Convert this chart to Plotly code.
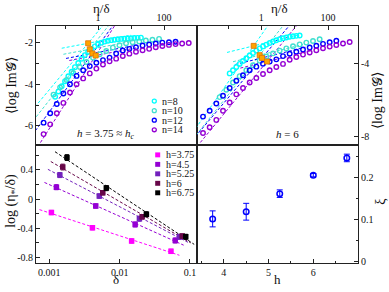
import numpy as np
import plotly.graph_objects as go
from plotly.subplots import make_subplots

# ---------------- data : top-left panel (h = 3.75) ; x = log10(eta/delta) ----------------
tl_n8_x = [-1.3,-1.2,-1.1,-1.0,-0.9,-0.8,-0.7,-0.6,-0.5,-0.4,-0.3,-0.2,-0.1,0.0,0.1,0.2,0.3,0.4,0.5,0.6,0.7,0.8,0.9,1.0,1.1,1.2,1.3]
tl_n8_y = [-4.6,-4.35,-4.1,-3.86,-3.62,-3.4,-3.18,-2.98,-2.78,-2.6,-2.44,-2.3,-2.18,-2.08,-2.0,-1.95,-1.91,-1.88,-1.86,-1.84,-1.82,-1.81,-1.8,-1.79,-1.78,-1.77,-1.76]
tl_n10_x = [-1.35,-1.15,-0.95,-0.75,-0.55,-0.35,-0.15,0.05,0.25,0.45,0.65,0.85,1.05,1.25,1.45,1.65,1.85]
tl_n10_y = [-4.5,-4.15,-3.8,-3.46,-3.17,-2.93,-2.73,-2.56,-2.4,-2.24,-2.12,-2.03,-1.98,-1.94,-1.9,-1.86,-1.82]
tl_n12_x = [-1.65,-1.45,-1.25,-1.05,-0.85,-0.65,-0.45,-0.25,-0.05,0.15,0.35,0.55,0.75,0.95,1.15,1.35,1.55,1.75,1.95,2.15,2.35]
tl_n12_y = [-5.85,-5.4,-4.95,-4.45,-4.0,-3.6,-3.33,-3.13,-2.97,-2.84,-2.72,-2.52,-2.38,-2.3,-2.22,-2.14,-2.09,-2.04,-2.0,-1.98,-1.96]
tl_n14_x = [-1.65,-1.45,-1.25,-1.05,-0.85,-0.65,-0.45,-0.25,-0.05,0.15,0.35,0.55,0.75,0.95,1.15,1.35,1.55,1.75,1.95,2.15,2.35,2.55,2.75]
tl_n14_y = [-6.4,-5.93,-5.4,-4.9,-4.4,-4.0,-3.72,-3.48,-3.25,-3.05,-2.9,-2.77,-2.64,-2.53,-2.44,-2.37,-2.3,-2.22,-2.16,-2.11,-2.07,-2.04,-2.02]
tl_cross_x = [-0.30, -0.25, -0.17, -0.07]
tl_cross_y = [-2.03, -2.32, -2.52, -2.62]
tl_steep = [1.9, 2.0, 2.15, 2.5]
tl_flat = [0.3, 0.3, 0.3, 0.3]

# ---------------- data : top-right panel (h = 6) ----------------
tr_n8_x = [-0.95,-0.85,-0.75,-0.65,-0.55,-0.45,-0.35,-0.25,-0.15,-0.05,0.05,0.15,0.25,0.35,0.45,0.55,0.65,0.75,0.85,0.95,1.05,1.15]
tr_n8_y = [-4.55,-4.38,-4.2,-4.03,-3.87,-3.72,-3.57,-3.43,-3.3,-3.18,-3.07,-2.97,-2.88,-2.8,-2.73,-2.67,-2.62,-2.58,-2.54,-2.51,-2.49,-2.47]
tr_n10_x = [-1.25,-1.05,-0.85,-0.65,-0.45,-0.25,-0.05,0.15,0.35,0.55,0.75,0.95,1.15,1.35,1.55,1.75]
tr_n10_y = [-5.85,-5.45,-5.05,-4.7,-4.38,-4.1,-3.85,-3.62,-3.45,-3.3,-3.18,-3.06,-2.96,-2.86,-2.77,-2.68]
tr_n12_x = [-1.75,-1.55,-1.35,-1.15,-0.95,-0.75,-0.55,-0.35,-0.15,0.05,0.25,0.45,0.65,0.85,1.05,1.25,1.45,1.65,1.85,2.05,2.25]
tr_n12_y = [-6.92,-6.6,-6.2,-5.78,-5.35,-4.95,-4.65,-4.38,-4.18,-4.02,-3.9,-3.78,-3.6,-3.47,-3.36,-3.24,-3.13,-3.03,-2.93,-2.84,-2.76]
tr_n14_x = [-1.75,-1.55,-1.35,-1.15,-0.95,-0.75,-0.55,-0.35,-0.15,0.05,0.25,0.45,0.65,0.85,1.05,1.25,1.45,1.65,1.85,2.05,2.25,2.45,2.65]
tr_n14_y = [-7.82,-7.5,-7.1,-6.6,-6.15,-5.7,-5.35,-5.05,-4.8,-4.58,-4.38,-4.2,-4.03,-3.8,-3.65,-3.52,-3.4,-3.28,-3.17,-3.08,-2.99,-2.91,-2.83]
tr_cross_x = [-0.23, -0.05, 0.02, 0.17]
tr_cross_y = [-3.04, -3.55, -3.7, -3.9]
tr_steep = [2.6, 2.3, 2.16, 2.22]
tr_flat = [0.45, 0.45, 0.45, 0.45]

n_labels = ["n=8", "n=10", "n=12", "n=14"]

# ---------------- data : bottom-left panel ----------------
h_labels = ["h=3.75", "h=4.5", "h=5.25", "h=6", "h=6.75"]
bl_delta = [
    [0.00107, 0.0041, 0.0148, 0.0537],
    [0.00126, 0.00457, 0.0166, 0.0617],
    [0.00141, 0.00513, 0.0191, 0.0708],
    [0.00155, 0.00575, 0.0209, 0.0776],
    [0.00178, 0.00646, 0.0240, 0.0871],
]
bl_logeta = [
    [-0.186, -0.395, -0.577, -0.72],
    [0.163, -0.095, -0.35, -0.57],
    [0.33, 0.04, -0.27, -0.52],
    [0.44, 0.086, -0.245, -0.51],
    [0.57, 0.15, -0.21, -0.52],
]
bl_err = [
    [0.03, 0.03, 0.03, 0.03],
    [0.035, 0.03, 0.035, 0.035],
    [0.035, 0.03, 0.035, 0.035],
    [0.04, 0.03, 0.03, 0.03],
    [0.04, 0.035, 0.035, 0.035],
]

# ---------------- data : bottom-right panel ----------------
br_h = [3.75, 4.5, 5.25, 6.0, 6.75]
br_xi = [0.102, 0.119, 0.162, 0.206, 0.247]
br_err = [0.019, 0.02, 0.009, 0.004, 0.009]

# ---------------- styling ----------------
n_colors = ["#00FFFF", "#40E0D0", "#0000FF", "#9400D3"]
h_colors = ["#FF00FF", "#9400D3", "#7221BC", "#670748", "#000000"]
ORANGE = "#FFA500"
FONT = "Liberation Serif, Times New Roman, serif"
AX = "#222222"

fig = make_subplots(rows=2, cols=2, horizontal_spacing=0, vertical_spacing=0)

def add_top(row, col, xs, ys, cx, cy, steep, flat):
    for i in range(4):
        xl = np.array([cx[i] - 2.0, cx[i] + 1.2])
        yl = cy[i] + steep[i] * (xl - cx[i])
        fig.add_trace(go.Scatter(x=10 ** xl, y=yl, mode="lines",
                                 line=dict(color=n_colors[i], width=1, dash="3px,2px"),
                                 showlegend=False, hoverinfo="skip"), row=row, col=col)
        xf = np.array([cx[i] - 0.8, cx[i] + 1.3])
        yf = cy[i] + flat[i] * (xf - cx[i])
        fig.add_trace(go.Scatter(x=10 ** xf, y=yf, mode="lines",
                                 line=dict(color=n_colors[i], width=1, dash="3px,2px"),
                                 showlegend=False, hoverinfo="skip"), row=row, col=col)
    for i in range(4):
        x = np.array(xs[i]); y = np.array(ys[i])
        fig.add_trace(go.Scatter(x=10 ** x, y=y, mode="markers",
                                 marker=dict(symbol="circle-open", size=4.5, color=n_colors[i],
                                             line=dict(width=1.4, color=n_colors[i])),
                                 showlegend=False), row=row, col=col)
    fig.add_trace(go.Scatter(x=10 ** np.array(cx), y=cy, mode="markers",
                             marker=dict(symbol="square", size=5, color=ORANGE,
                                         line=dict(width=0.8, color="#E07000")),
                             showlegend=False), row=row, col=col)

add_top(1, 1, [tl_n8_x, tl_n10_x, tl_n12_x, tl_n14_x], [tl_n8_y, tl_n10_y, tl_n12_y, tl_n14_y],
        tl_cross_x, tl_cross_y, tl_steep, tl_flat)
add_top(1, 2, [tr_n8_x, tr_n10_x, tr_n12_x, tr_n14_x], [tr_n8_y, tr_n10_y, tr_n12_y, tr_n14_y],
        tr_cross_x, tr_cross_y, tr_steep, tr_flat)

# bottom-left
for i in range(5):
    ld = np.log10(bl_delta[i])
    p = np.polyfit(ld, bl_logeta[i], 1)
    xl = np.array([ld[0] - 0.17, ld[-1] + 0.12])
    fig.add_trace(go.Scatter(x=10 ** xl, y=np.polyval(p, xl), mode="lines",
                             line=dict(color=h_colors[i], width=1, dash="3px,2px"),
                             showlegend=False, hoverinfo="skip"), row=2, col=1)
for i in range(5):
    fig.add_trace(go.Scatter(x=bl_delta[i], y=bl_logeta[i], mode="markers",
                             marker=dict(symbol="square", size=5.5, color=h_colors[i]),
                             error_y=dict(type="data", array=bl_err[i], color=h_colors[i],
                                          thickness=1, width=2),
                             showlegend=False), row=2, col=1)

# bottom-right
fig.add_trace(go.Scatter(x=br_h, y=br_xi, mode="markers",
                         marker=dict(symbol="circle-open", size=5.5, color="#0000FF",
                                     line=dict(width=1.5, color="#0000FF")),
                         error_y=dict(type="data", array=br_err, color="#0000FF", thickness=1, width=3),
                         showlegend=False), row=2, col=2)

tickfont = dict(family=FONT, size=10, color="#111111")
common = dict(showgrid=False, zeroline=False, showline=True, mirror=True, linecolor=AX,
              linewidth=1, ticks="inside", ticklen=4, tickcolor=AX, tickfont=tickfont)

def minor(vals):
    return dict(ticks="inside", ticklen=2.5, tickcolor=AX, tickvals=vals, showgrid=False)

fig.update_xaxes(type="log", range=[-1.88, 3.0], side="top", tickvals=[1, 100],
                 ticktext=["1", "100"], minor=minor([0.1, 10]), row=1, col=1, **common)
fig.update_xaxes(type="log", range=[-1.93, 2.9], side="top", tickvals=[1, 100],
                 ticktext=["1", "100"], minor=minor([0.1, 10]), row=1, col=2, **common)
fig.update_yaxes(range=[-6.9, -1.2], tickvals=[-6, -4, -2], ticktext=["-6", "-4", "-2"],
                 minor=minor([-7, -5, -3]), row=1, col=1, **common)
fig.update_yaxes(range=[-8.45, -1.95], side="right", tickvals=[-8, -4],
                 ticktext=["-8", "-4"], minor=minor([-6, -2]), row=1, col=2, **common)
fig.update_xaxes(type="log", range=[-3.19, -0.9], tickvals=[0.001, 0.01, 0.1],
                 ticktext=["0.001", "0.01", "0.1"], row=2, col=1, **common)
fig.update_yaxes(range=[-0.88, 0.75], tickvals=[-0.8, -0.4, 0, 0.4],
                 ticktext=["-0.8", "-0.4", "0", "0.4"], minor=minor([-0.6, -0.2, 0.2, 0.6]),
                 row=2, col=1, **common)
fig.update_xaxes(range=[3.4, 7.0], tickvals=[4, 5, 6], ticktext=["4", "5", "6"],
                 minor=minor([3.5, 4.5, 5.5, 6.5]), row=2, col=2, **common)
fig.update_yaxes(range=[-0.003, 0.279], side="right", tickvals=[0, 0.1, 0.2],
                 ticktext=["0", "0.1", "0.2"], minor=minor([0.05, 0.15, 0.25]),
                 row=2, col=2, **common)

W, H = 389, 292
ML, MR, MT, MB = 36, 31, 23, 29
PW, PH = W - ML - MR, H - MT - MB

def px(xp):
    return (xp - ML) / PW

def py(yp):
    return (H - MB - yp) / PH

ann = []
def text(x, y, s, size=14, angle=0, xanchor="center"):
    ann.append(dict(x=px(x), y=py(y), xref="paper", yref="paper", text=s, showarrow=False,
                    font=dict(family=FONT, size=size, color="#111111"), textangle=angle,
                    xanchor=xanchor, yanchor="middle"))

text(101, 5, "η/δ", size=13)
text(279, 5, "η/δ", size=13)
text(11, 84, "⟨log Im𝒢⟩", angle=-90)
text(377, 99, "⟨log Im𝒢⟩", angle=-90)
text(12, 200, "log (η<sub>*</sub>/δ)", angle=-90)
text(116, 280, "δ", size=13)
text(277, 280, "h", size=13)
text(381, 201, "ξ", angle=-90)
text(106, 132, "<i>h</i> = 3.75 ≈ <i>h<sub>c</sub></i>", size=11)
text(287, 132, "<i>h</i> = 6", size=11)

shapes = []
for i in range(4):
    yy = 99 + 9.7 * i
    shapes.append(dict(type="circle", xref="paper", yref="paper",
                       x0=px(152.3), x1=px(156.3), y0=py(yy + 2), y1=py(yy - 2),
                       line=dict(color=n_colors[i], width=1.3)))
    text(160, yy, n_labels[i], size=10, xanchor="left")
for i in range(5):
    yy = 153.5 + 9.6 * i
    shapes.append(dict(type="rect", xref="paper", yref="paper",
                       x0=px(155.2), x1=px(160.2), y0=py(yy + 2.5), y1=py(yy - 2.5),
                       fillcolor=h_colors[i], line=dict(width=0)))
    text(164, yy, h_labels[i], size=10, xanchor="left")

fig.update_layout(width=W, height=H, margin=dict(l=ML, r=MR, t=MT, b=MB),
                  paper_bgcolor="white", plot_bgcolor="white",
                  annotations=ann, shapes=shapes, showlegend=False,
                  font=dict(family=FONT))

fig.write_html("out.html", config={"displayModeBar": False},
               post_script="document.body.style.margin='0';document.body.style.padding='0';")
